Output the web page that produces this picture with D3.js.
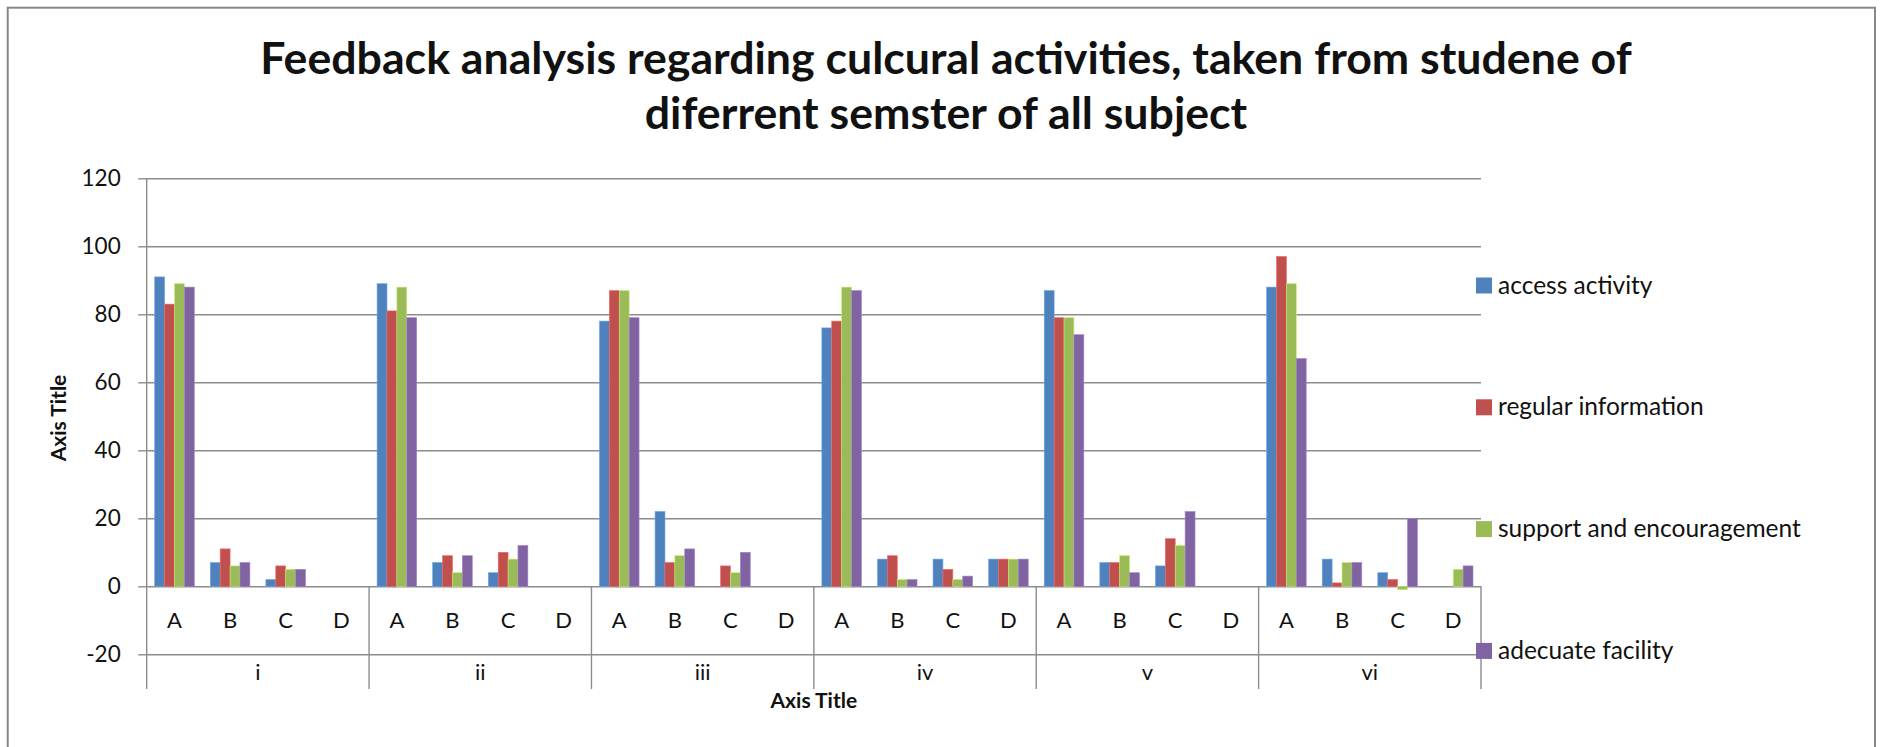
<!DOCTYPE html>
<html>
<head>
<meta charset="utf-8">
<script src="https://cdn.jsdelivr.net/npm/d3@7"></script>
<style>
body { margin: 0; background: #fff; }
svg text { font-family: Lato, "Open Sans", sans-serif; fill: #111; }
</style>
</head>
<body>
<svg id="chart"></svg>
<script>
const semesters = ["i", "ii", "iii", "iv", "v", "vi"];
const grades = ["A", "B", "C", "D"];
const seriesNames = ["access activity", "regular information", "support and encouragement", "adecuate facility"];
const seriesColours = ["#4F81BD", "#C0504D", "#9BBB59", "#8064A2"];
const yTicks = [-20, 0, 20, 40, 60, 80, 100, 120];

// 24 values per series: semester i A,B,C,D then ii A,B,C,D ...
const accessActivity       = [91, 7, 2, 0,  89, 7, 4, 0,  78, 22, 0, 0,  76, 8, 8, 8,  87, 7, 6, 0,  88, 8, 4, 0];
const regularInformation   = [83, 11, 6, 0, 81, 9, 10, 0, 87, 7, 6, 0,   78, 9, 5, 8,  79, 7, 14, 0, 97, 1, 2, 0];
const supportEncouragement = [89, 6, 5, 0,  88, 4, 8, 0,  87, 9, 4, 0,   88, 2, 2, 8,  79, 9, 12, 0, 89, 7, -1, 5];
const adequateFacility     = [88, 7, 5, 0,  79, 9, 12, 0, 79, 11, 10, 0, 87, 2, 3, 8,  74, 4, 22, 0, 67, 7, 20, 6];

const seriesValues = [accessActivity, regularInformation, supportEncouragement, adequateFacility];

const width = 1881, height = 747;
const plot = { left: 146.7, right: 1481, top: 178.3, bottom: 654.3, labelsBottom: 689 };

const svg = d3.select("#chart")
  .attr("width", width)
  .attr("height", height);

// outer chart border
svg.append("rect")
  .attr("x", 7.7).attr("y", 7.7)
  .attr("width", 1875 - 7.7).attr("height", 760)
  .attr("fill", "#fff")
  .attr("stroke", "#878787")
  .attr("stroke-width", 2);

let keys = [];
semesters.forEach(s => grades.forEach(g => keys.push(s + "-" + g)));

let x0 = d3.scaleBand()
  .domain(keys)
  .range([plot.left, plot.right])
  .paddingInner(0.288)
  .paddingOuter(0.144);

let x1 = d3.scaleBand()
  .domain(seriesNames)
  .range([0, x0.bandwidth()]);

let xg = d3.scaleBand()
  .domain(semesters)
  .range([plot.left, plot.right]);

let y = d3.scaleLinear()
  .domain([-20, 120])
  .range([plot.bottom, plot.top]);

// gridlines
svg.append("g")
  .attr("class", "grid")
  .attr("transform", `translate(${plot.left},0)`)
  .call(d3.axisLeft(y).tickValues(yTicks).tickSize(-(plot.right - plot.left)).tickFormat(""))
  .call(g => g.select(".domain").remove())
  .selectAll("line")
  .attr("stroke", "#8c8c8c")
  .attr("stroke-width", 1.4);

// y axis ticks + labels (plain hyphen for negatives, like the original)
svg.append("g")
  .attr("class", "yAxis")
  .attr("transform", `translate(${plot.left},0)`)
  .call(d3.axisLeft(y).tickValues(yTicks).tickSize(8.5).tickPadding(17.5).tickFormat(d => String(d)))
  .call(g => g.select(".domain").remove())
  .call(g => g.selectAll("line").attr("stroke", "#8c8c8c").attr("stroke-width", 1.4))
  .call(g => g.selectAll("text").attr("font-size", 22.5).attr("fill", "#111").attr("font-family", "Lato"));

// bars
let barData = [];
keys.forEach((k, i) => {
  seriesNames.forEach((name, j) => {
    barData.push({ key: k, series: name, value: seriesValues[j][i], colour: seriesColours[j] });
  });
});

svg.selectAll("rect.bar")
  .data(barData.filter(d => d.value != 0))
  .enter()
  .append("rect")
  .attr("class", "bar")
  .attr("x", d => x0(d.key) + x1(d.series))
  .attr("width", x1.bandwidth())
  .attr("y", d => y(Math.max(0, d.value)))
  .attr("height", d => Math.abs(y(d.value) - y(0)))
  .attr("fill", d => d.colour)
  .attr("stroke", d => d3.color(d.colour).brighter(0.7))
  .attr("stroke-width", 0.6);

// axis lines: left axis and group separators
svg.append("line")
  .attr("x1", plot.left).attr("x2", plot.left)
  .attr("y1", plot.top).attr("y2", plot.labelsBottom)
  .attr("stroke", "#8c8c8c").attr("stroke-width", 1.4);

svg.selectAll("line.sep")
  .data(semesters)
  .enter()
  .append("line")
  .attr("class", "sep")
  .attr("x1", d => xg(d) + xg.bandwidth())
  .attr("x2", d => xg(d) + xg.bandwidth())
  .attr("y1", y(0)).attr("y2", plot.labelsBottom)
  .attr("stroke", "#8c8c8c").attr("stroke-width", 1.4);

// category labels
svg.selectAll("text.grade")
  .data(keys)
  .enter()
  .append("text")
  .attr("class", "grade")
  .attr("x", d => x0(d) + x0.bandwidth() / 2)
  .attr("y", 628)
  .attr("text-anchor", "middle")
  .attr("font-size", 22)
  .text(d => d.split("-")[1]);

svg.selectAll("text.semester")
  .data(semesters)
  .enter()
  .append("text")
  .attr("class", "semester")
  .attr("x", d => xg(d) + xg.bandwidth() / 2)
  .attr("y", 680)
  .attr("text-anchor", "middle")
  .attr("font-size", 22)
  .text(d => d);

// axis titles
svg.append("text")
  .attr("x", (plot.left + plot.right) / 2)
  .attr("y", 708)
  .attr("text-anchor", "middle")
  .attr("font-size", 21)
  .attr("font-weight", "bold")
  .text("Axis Title");

svg.append("text")
  .attr("transform", "translate(66,418) rotate(-90)")
  .attr("text-anchor", "middle")
  .attr("font-size", 21)
  .attr("font-weight", "bold")
  .text("Axis Title");

// title, sized to the reference width
let titleLines = ["Feedback analysis regarding culcural activities, taken from studene of", "diferrent semster of all subject"];
let title = svg.append("text")
  .attr("text-anchor", "middle")
  .attr("font-weight", "bold")
  .attr("font-size", 44);
titleLines.forEach((t, i) => {
  title.append("tspan")
    .attr("x", 946)
    .attr("y", 74 + i * 55)
    .text(t);
});
let firstLen = title.select("tspan").node().getComputedTextLength();
title.attr("font-size", 44 * 1372 / firstLen);

// legend
let legend = svg.selectAll("g.legend")
  .data(seriesNames)
  .enter()
  .append("g")
  .attr("class", "legend")
  .attr("transform", (d, i) => `translate(1476,${285.5 + i * 121.8})`);

legend.append("rect")
  .attr("x", 0).attr("y", -8)
  .attr("width", 16).attr("height", 16)
  .attr("fill", (d, i) => seriesColours[i]);

legend.append("text")
  .attr("x", 22)
  .attr("y", 8)
  .attr("font-size", 24.5)
  .text(d => d);
</script>
</body>
</html>
